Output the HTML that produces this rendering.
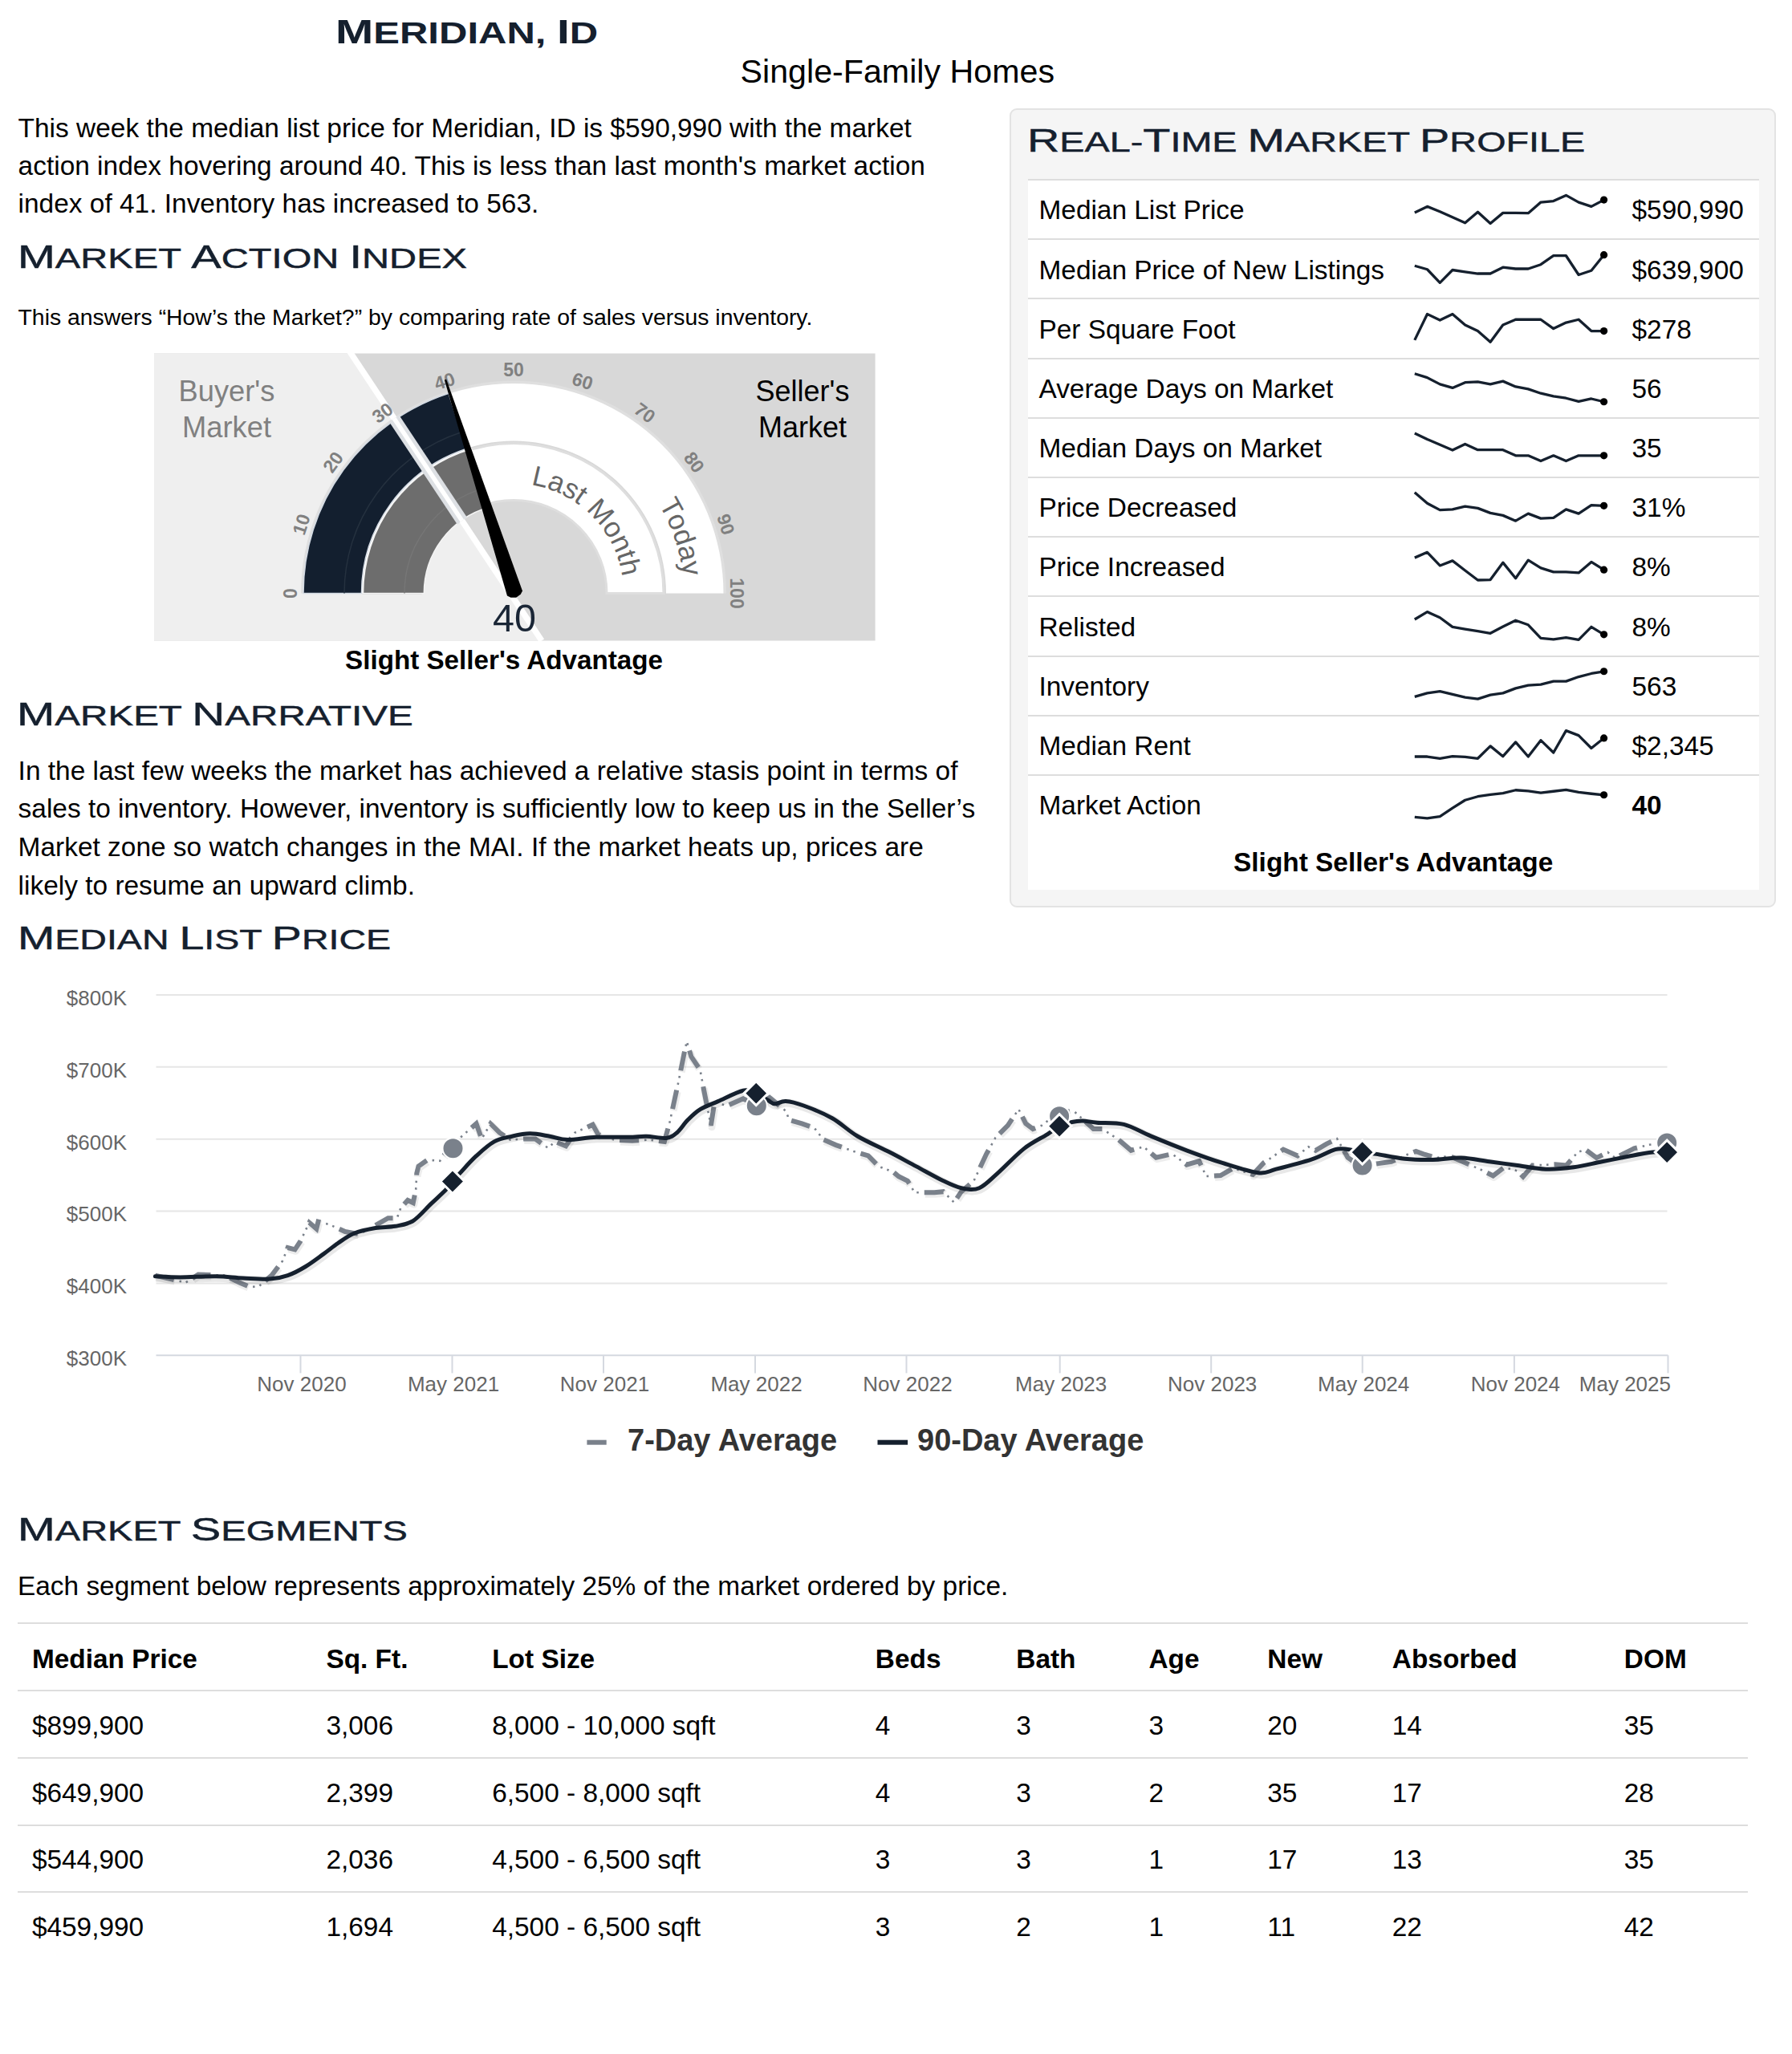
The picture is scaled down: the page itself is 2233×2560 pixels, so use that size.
<!DOCTYPE html><html><head><meta charset="utf-8"><style>
html,body{margin:0;padding:0;background:#fff;}
body{width:2233px;height:2560px;position:relative;overflow:hidden;font-family:"Liberation Sans",sans-serif;color:#000;}
.t{position:absolute;white-space:nowrap;}
.h{position:absolute;white-space:nowrap;color:#15202e;transform-origin:0 0;-webkit-text-stroke:0.45px #15202e;}
svg{position:absolute;left:0;top:0;}
</style></head><body>
<div class="h" id="title" style="left:418.0px;top:17.7px;line-height:43.3px;font-weight:bold;-webkit-text-stroke:0;transform:scaleX(1.3103)"><span style="font-size:43.3px">M</span><span style="font-size:37.4px">E</span><span style="font-size:37.4px">R</span><span style="font-size:37.4px">I</span><span style="font-size:37.4px">D</span><span style="font-size:37.4px">I</span><span style="font-size:37.4px">A</span><span style="font-size:37.4px">N</span><span style="font-size:37.4px">,</span><span style="font-size:37.4px"> </span><span style="font-size:43.3px">I</span><span style="font-size:37.4px">D</span></div>
<div class="t " style="left:118.3px;width:2000px;text-align:center;top:69.3px;font-size:41.2px;line-height:41.2px;">Single-Family Homes</div>
<div class="t " style="left:22.6px;top:142.5px;font-size:33.45px;line-height:33.45px;">This week the median list price for Meridian, ID is $590,990 with the market</div>
<div class="t " style="left:22.6px;top:189.8px;font-size:33.45px;line-height:33.45px;">action index hovering around 40. This is less than last month's market action</div>
<div class="t " style="left:22.6px;top:237.1px;font-size:33.45px;line-height:33.45px;">index of 41. Inventory has increased to 563.</div>
<div class="h" id="mai" style="left:21.7px;top:299.6px;line-height:41.2px;transform:scaleX(1.3655)"><span style="font-size:41.2px">M</span><span style="font-size:34.5px">A</span><span style="font-size:34.5px">R</span><span style="font-size:34.5px">K</span><span style="font-size:34.5px">E</span><span style="font-size:34.5px">T</span><span style="font-size:34.5px"> </span><span style="font-size:41.2px">A</span><span style="font-size:34.5px">C</span><span style="font-size:34.5px">T</span><span style="font-size:34.5px">I</span><span style="font-size:34.5px">O</span><span style="font-size:34.5px">N</span><span style="font-size:34.5px"> </span><span style="font-size:41.2px">I</span><span style="font-size:34.5px">N</span><span style="font-size:34.5px">D</span><span style="font-size:34.5px">E</span><span style="font-size:34.5px">X</span></div>
<div class="t " style="left:22.5px;top:380.9px;font-size:28.4px;line-height:28.4px;">This answers “How’s the Market?” by comparing rate of sales versus inventory.</div>
<svg width="2233" height="900" viewBox="0 0 2233 900" style="font-family:'Liberation Sans'"><rect x="192.0" y="440.5" width="898.5999999999999" height="358.0" fill="#d8d8d8"/><polygon points="192.0,440.5 434.0,440.5 675.0,798.5 192.0,798.5" fill="#efefef"/><path d="M375.00,739.50 A265,265 0 0 1 905.00,739.50 L899.00,739.50 A259,259 0 0 0 381.00,739.50 Z" fill="#dfdfdf"/><path d="M378.50,739.50 A261.5,261.5 0 0 1 901.50,739.50 L830.00,739.50 A190,190 0 0 0 450.00,739.50 Z" fill="#fff"/><path d="M453.00,739.50 A187,187 0 0 1 827.00,739.50 L756.00,739.50 A116,116 0 0 0 524.00,739.50 Z" fill="#fff" stroke="#dedede" stroke-width="3"/><path d="M449.00,739.50 A191,191 0 0 1 586.71,556.08 L588.11,560.89 A186,186 0 0 0 454.00,739.50 Z" fill="#fff"/><path d="M378.00,739.50 A262,262 0 0 1 559.04,490.32 L581.44,559.27 A189.5,189.5 0 0 0 450.50,739.50 Z" fill="#131f2f" stroke="#d3dae3" stroke-width="1.5"/><path d="M452.50,739.50 A187.5,187.5 0 0 1 587.69,559.44 L608.84,632.24 A111.7,111.7 0 0 0 528.30,739.50 Z" fill="#6d6d6d" stroke="#f4f4f4" stroke-width="1.5"/><path d="M429.00,739.5 A211,211 0 0 1 574.80,538.83" fill="none" stroke="#25313f" stroke-width="1.5"/><path d="M504.00,739.5 A136,136 0 0 1 602.06,608.90" fill="none" stroke="#767676" stroke-width="1.5"/><clipPath id="ringclip"><path d="M376.00,739.50 A264,264 0 0 1 904.00,739.50 L751.00,739.50 A111,111 0 0 0 529.00,739.50 Z"/></clipPath><clipPath id="outclip"><path clip-rule="evenodd" d="M0,0 H2233 V900 H0 Z M376.00,739.50 A264,264 0 0 1 904.00,739.50 L751.00,739.50 A111,111 0 0 0 529.00,739.50 Z"/></clipPath><line x1="434.0" y1="435.5" x2="675.0" y2="798.5" stroke="#dde0e4" stroke-width="15" clip-path="url(#ringclip)"/><line x1="434.0" y1="435.5" x2="675.0" y2="798.5" stroke="#fff" stroke-width="5.5" clip-path="url(#ringclip)"/><line x1="434.0" y1="435.5" x2="675.0" y2="798.5" stroke="#fff" stroke-width="7.5" clip-path="url(#outclip)"/><g transform="translate(640.0,739.5) rotate(-90.0) translate(0,-278)"><text x="0" y="7.9" text-anchor="middle" font-size="23" font-weight="bold" fill="#808080">0</text></g><g transform="translate(640.0,739.5) rotate(-72.0) translate(0,-278)"><text x="0" y="7.9" text-anchor="middle" font-size="23" font-weight="bold" fill="#808080">10</text></g><g transform="translate(640.0,739.5) rotate(-54.0) translate(0,-278)"><text x="0" y="7.9" text-anchor="middle" font-size="23" font-weight="bold" fill="#808080">20</text></g><g transform="translate(640.0,739.5) rotate(-36.0) translate(0,-278)"><text x="0" y="7.9" text-anchor="middle" font-size="23" font-weight="bold" fill="#808080">30</text></g><g transform="translate(640.0,739.5) rotate(-18.0) translate(0,-278)"><text x="0" y="7.9" text-anchor="middle" font-size="23" font-weight="bold" fill="#808080">40</text></g><g transform="translate(640.0,739.5) rotate(0.0) translate(0,-278)"><text x="0" y="7.9" text-anchor="middle" font-size="23" font-weight="bold" fill="#808080">50</text></g><g transform="translate(640.0,739.5) rotate(18.0) translate(0,-278)"><text x="0" y="7.9" text-anchor="middle" font-size="23" font-weight="bold" fill="#808080">60</text></g><g transform="translate(640.0,739.5) rotate(36.0) translate(0,-278)"><text x="0" y="7.9" text-anchor="middle" font-size="23" font-weight="bold" fill="#808080">70</text></g><g transform="translate(640.0,739.5) rotate(54.0) translate(0,-278)"><text x="0" y="7.9" text-anchor="middle" font-size="23" font-weight="bold" fill="#808080">80</text></g><g transform="translate(640.0,739.5) rotate(72.0) translate(0,-278)"><text x="0" y="7.9" text-anchor="middle" font-size="23" font-weight="bold" fill="#808080">90</text></g><g transform="translate(640.0,739.5) rotate(90.0) translate(0,-278)"><text x="0" y="7.9" text-anchor="middle" font-size="23" font-weight="bold" fill="#808080">100</text></g><text transform="translate(670.98,606.05) rotate(13.07)" text-anchor="middle" font-size="35" fill="#666">L</text><text transform="translate(689.56,611.78) rotate(21.21)" text-anchor="middle" font-size="35" fill="#666">a</text><text transform="translate(706.29,619.61) rotate(28.94)" text-anchor="middle" font-size="35" fill="#666">s</text><text transform="translate(717.86,626.77) rotate(34.63)" text-anchor="middle" font-size="35" fill="#666">t</text><text transform="translate(739.92,645.77) rotate(46.83)" text-anchor="middle" font-size="35" fill="#666">M</text><text transform="translate(754.89,664.88) rotate(57.00)" text-anchor="middle" font-size="35" fill="#666">o</text><text transform="translate(764.30,681.90) rotate(65.14)" text-anchor="middle" font-size="35" fill="#666">n</text><text transform="translate(769.72,695.45) rotate(71.24)" text-anchor="middle" font-size="35" fill="#666">t</text><text transform="translate(773.67,709.49) rotate(77.35)" text-anchor="middle" font-size="35" fill="#666">h</text><text transform="translate(826.07,637.90) rotate(61.36)" text-anchor="middle" font-size="35" fill="#666">T</text><text transform="translate(834.21,654.49) rotate(66.36)" text-anchor="middle" font-size="35" fill="#666">o</text><text transform="translate(841.19,672.65) rotate(71.62)" text-anchor="middle" font-size="35" fill="#666">d</text><text transform="translate(846.47,691.38) rotate(76.88)" text-anchor="middle" font-size="35" fill="#666">a</text><text transform="translate(849.87,709.55) rotate(81.88)" text-anchor="middle" font-size="35" fill="#666">y</text><polygon points="553.83,473.57 556.12,472.83 651.01,736.41 648.76,740.82 643.20,744.73 636.40,744.84 631.99,742.59" fill="#000"/><text x="641" y="787.3" text-anchor="middle" font-size="48.5" fill="#1a2636">40</text><text x="282.5" y="500" text-anchor="middle" font-size="36.3" fill="#808080">Buyer's</text><text x="282.5" y="544.7" text-anchor="middle" font-size="36.3" fill="#808080">Market</text><text x="1000" y="499.8" text-anchor="middle" font-size="36" fill="#000">Seller's</text><text x="1000" y="544.8" text-anchor="middle" font-size="36" fill="#000">Market</text></svg>
<div class="t " style="left:-372.0px;width:2000px;text-align:center;top:806.4px;font-size:33.2px;line-height:33.2px;font-weight:bold">Slight Seller's Advantage</div>
<div class="h" id="narr" style="left:20.5px;top:869.5px;line-height:41.2px;transform:scaleX(1.3788)"><span style="font-size:41.2px">M</span><span style="font-size:34.5px">A</span><span style="font-size:34.5px">R</span><span style="font-size:34.5px">K</span><span style="font-size:34.5px">E</span><span style="font-size:34.5px">T</span><span style="font-size:34.5px"> </span><span style="font-size:41.2px">N</span><span style="font-size:34.5px">A</span><span style="font-size:34.5px">R</span><span style="font-size:34.5px">R</span><span style="font-size:34.5px">A</span><span style="font-size:34.5px">T</span><span style="font-size:34.5px">I</span><span style="font-size:34.5px">V</span><span style="font-size:34.5px">E</span></div>
<div class="t " style="left:22.6px;top:943.7px;font-size:33.45px;line-height:33.45px;">In the last few weeks the market has achieved a relative stasis point in terms of</div>
<div class="t " style="left:22.6px;top:991.3px;font-size:33.45px;line-height:33.45px;">sales to inventory. However, inventory is sufficiently low to keep us in the Seller’s</div>
<div class="t " style="left:22.6px;top:1038.9px;font-size:33.45px;line-height:33.45px;">Market zone so watch changes in the MAI. If the market heats up, prices are</div>
<div class="t " style="left:22.6px;top:1086.5px;font-size:33.45px;line-height:33.45px;">likely to resume an upward climb.</div>
<div style="position:absolute;left:1258.3px;top:135.2px;width:950.4px;height:992.1px;background:#f5f5f5;border:2px solid #e3e3e3;border-radius:9px"></div>
<div style="position:absolute;left:1280.5px;top:223.1px;width:911.4px;height:886.3px;background:#fff"></div>
<div class="h" id="rtmp" style="left:1279.7px;top:154.7px;line-height:41.2px;transform:scaleX(1.3552)"><span style="font-size:41.2px">R</span><span style="font-size:34.5px">E</span><span style="font-size:34.5px">A</span><span style="font-size:34.5px">L</span><span style="font-size:34.5px">-</span><span style="font-size:41.2px">T</span><span style="font-size:34.5px">I</span><span style="font-size:34.5px">M</span><span style="font-size:34.5px">E</span><span style="font-size:34.5px"> </span><span style="font-size:41.2px">M</span><span style="font-size:34.5px">A</span><span style="font-size:34.5px">R</span><span style="font-size:34.5px">K</span><span style="font-size:34.5px">E</span><span style="font-size:34.5px">T</span><span style="font-size:34.5px"> </span><span style="font-size:41.2px">P</span><span style="font-size:34.5px">R</span><span style="font-size:34.5px">O</span><span style="font-size:34.5px">F</span><span style="font-size:34.5px">I</span><span style="font-size:34.5px">L</span><span style="font-size:34.5px">E</span></div>
<div style="position:absolute;left:1280.5px;top:223.10px;width:911.4px;height:2px;background:#dddddd"></div>
<div class="t " style="left:1294.5px;top:245.3px;font-size:33.4px;line-height:33.4px;">Median List Price</div>
<div class="t " style="left:2033.5px;top:245.3px;font-size:33.4px;line-height:33.4px;">$590,990</div>
<div style="position:absolute;left:1280.5px;top:297.28px;width:911.4px;height:2px;background:#dddddd"></div>
<div class="t " style="left:1294.5px;top:319.5px;font-size:33.4px;line-height:33.4px;">Median Price of New Listings</div>
<div class="t " style="left:2033.5px;top:319.5px;font-size:33.4px;line-height:33.4px;">$639,900</div>
<div style="position:absolute;left:1280.5px;top:371.46px;width:911.4px;height:2px;background:#dddddd"></div>
<div class="t " style="left:1294.5px;top:393.7px;font-size:33.4px;line-height:33.4px;">Per Square Foot</div>
<div class="t " style="left:2033.5px;top:393.7px;font-size:33.4px;line-height:33.4px;">$278</div>
<div style="position:absolute;left:1280.5px;top:445.64px;width:911.4px;height:2px;background:#dddddd"></div>
<div class="t " style="left:1294.5px;top:467.9px;font-size:33.4px;line-height:33.4px;">Average Days on Market</div>
<div class="t " style="left:2033.5px;top:467.9px;font-size:33.4px;line-height:33.4px;">56</div>
<div style="position:absolute;left:1280.5px;top:519.82px;width:911.4px;height:2px;background:#dddddd"></div>
<div class="t " style="left:1294.5px;top:542.0px;font-size:33.4px;line-height:33.4px;">Median Days on Market</div>
<div class="t " style="left:2033.5px;top:542.0px;font-size:33.4px;line-height:33.4px;">35</div>
<div style="position:absolute;left:1280.5px;top:594.00px;width:911.4px;height:2px;background:#dddddd"></div>
<div class="t " style="left:1294.5px;top:616.2px;font-size:33.4px;line-height:33.4px;">Price Decreased</div>
<div class="t " style="left:2033.5px;top:616.2px;font-size:33.4px;line-height:33.4px;">31%</div>
<div style="position:absolute;left:1280.5px;top:668.18px;width:911.4px;height:2px;background:#dddddd"></div>
<div class="t " style="left:1294.5px;top:690.4px;font-size:33.4px;line-height:33.4px;">Price Increased</div>
<div class="t " style="left:2033.5px;top:690.4px;font-size:33.4px;line-height:33.4px;">8%</div>
<div style="position:absolute;left:1280.5px;top:742.36px;width:911.4px;height:2px;background:#dddddd"></div>
<div class="t " style="left:1294.5px;top:764.6px;font-size:33.4px;line-height:33.4px;">Relisted</div>
<div class="t " style="left:2033.5px;top:764.6px;font-size:33.4px;line-height:33.4px;">8%</div>
<div style="position:absolute;left:1280.5px;top:816.54px;width:911.4px;height:2px;background:#dddddd"></div>
<div class="t " style="left:1294.5px;top:838.8px;font-size:33.4px;line-height:33.4px;">Inventory</div>
<div class="t " style="left:2033.5px;top:838.8px;font-size:33.4px;line-height:33.4px;">563</div>
<div style="position:absolute;left:1280.5px;top:890.72px;width:911.4px;height:2px;background:#dddddd"></div>
<div class="t " style="left:1294.5px;top:912.9px;font-size:33.4px;line-height:33.4px;">Median Rent</div>
<div class="t " style="left:2033.5px;top:912.9px;font-size:33.4px;line-height:33.4px;">$2,345</div>
<div style="position:absolute;left:1280.5px;top:964.90px;width:911.4px;height:2px;background:#dddddd"></div>
<div class="t " style="left:1294.5px;top:987.1px;font-size:33.4px;line-height:33.4px;">Market Action</div>
<div class="t " style="left:2033.5px;top:987.1px;font-size:33.4px;line-height:33.4px;"><b>40</b></div>
<svg width="2233" height="1200" viewBox="0 0 2233 1200"><path d="M1762.81,264.93 L1778.48,257.39 L1794.30,263.72 L1809.97,270.65 L1825.64,277.73 L1841.46,264.17 L1857.13,278.49 L1872.80,265.38 L1888.62,265.38 L1904.29,265.68 L1919.96,252.12 L1935.78,250.61 L1951.45,243.38 L1967.12,252.12 L1982.94,257.39 L1998.61,249.11" fill="none" stroke="#15202e" stroke-width="3.3" stroke-linejoin="round"/><circle cx="1998.61" cy="249.11" r="4.6" fill="#000"/><path d="M1762.81,331.22 L1778.48,335.74 L1794.30,352.32 L1809.97,336.50 L1825.64,338.76 L1841.46,341.02 L1857.13,341.02 L1872.80,333.18 L1888.62,334.99 L1904.29,334.99 L1919.96,329.72 L1935.78,318.72 L1951.45,318.72 L1967.12,342.52 L1982.94,337.25 L1998.61,317.66" fill="none" stroke="#15202e" stroke-width="3.3" stroke-linejoin="round"/><circle cx="1998.61" cy="317.66" r="4.6" fill="#000"/><path d="M1762.81,423.89 L1778.48,391.49 L1794.30,399.02 L1809.97,391.49 L1825.64,405.05 L1841.46,412.58 L1857.13,426.15 L1872.80,405.05 L1888.62,398.27 L1904.29,398.27 L1919.96,398.27 L1935.78,409.57 L1951.45,402.04 L1967.12,398.27 L1982.94,412.58 L1998.61,412.58" fill="none" stroke="#15202e" stroke-width="3.3" stroke-linejoin="round"/><circle cx="1998.61" cy="412.58" r="4.6" fill="#000"/><path d="M1762.81,465.79 L1778.48,470.61 L1794.30,478.90 L1809.97,483.42 L1825.64,476.64 L1841.46,475.89 L1857.13,478.90 L1872.80,475.13 L1888.62,481.91 L1904.29,484.93 L1919.96,490.20 L1935.78,493.97 L1951.45,496.23 L1967.12,500.45 L1982.94,496.98 L1998.61,500.75" fill="none" stroke="#15202e" stroke-width="3.3" stroke-linejoin="round"/><circle cx="1998.61" cy="500.75" r="4.6" fill="#000"/><path d="M1762.81,539.92 L1778.48,547.46 L1794.30,554.24 L1809.97,561.02 L1825.64,553.48 L1841.46,560.71 L1857.13,560.71 L1872.80,560.71 L1888.62,567.80 L1904.29,567.80 L1919.96,574.58 L1935.78,567.80 L1951.45,574.58 L1967.12,567.80 L1982.94,567.80 L1998.61,567.80" fill="none" stroke="#15202e" stroke-width="3.3" stroke-linejoin="round"/><circle cx="1998.61" cy="567.80" r="4.6" fill="#000"/><path d="M1762.81,613.75 L1778.48,627.31 L1794.30,635.60 L1809.97,634.84 L1825.64,631.08 L1841.46,633.34 L1857.13,639.36 L1872.80,642.38 L1888.62,649.16 L1904.29,640.12 L1919.96,646.15 L1935.78,645.39 L1951.45,634.84 L1967.12,640.12 L1982.94,629.57 L1998.61,630.32" fill="none" stroke="#15202e" stroke-width="3.3" stroke-linejoin="round"/><circle cx="1998.61" cy="630.32" r="4.6" fill="#000"/><path d="M1762.81,695.13 L1778.48,688.35 L1794.30,704.93 L1809.97,698.90 L1825.64,710.95 L1841.46,723.01 L1857.13,722.56 L1872.80,701.16 L1888.62,720.75 L1904.29,698.15 L1919.96,707.94 L1935.78,712.91 L1951.45,712.91 L1967.12,713.97 L1982.94,700.41 L1998.61,710.20" fill="none" stroke="#15202e" stroke-width="3.3" stroke-linejoin="round"/><circle cx="1998.61" cy="710.20" r="4.6" fill="#000"/><path d="M1762.81,771.98 L1778.48,762.63 L1794.30,769.72 L1809.97,781.32 L1825.64,784.03 L1841.46,786.74 L1857.13,789.30 L1872.80,781.02 L1888.62,773.18 L1904.29,778.76 L1919.96,795.33 L1935.78,796.84 L1951.45,794.58 L1967.12,797.29 L1982.94,781.32 L1998.61,790.81" fill="none" stroke="#15202e" stroke-width="3.3" stroke-linejoin="round"/><circle cx="1998.61" cy="790.81" r="4.6" fill="#000"/><path d="M1762.81,868.41 L1778.48,863.89 L1794.30,861.62 L1809.97,865.39 L1825.64,869.16 L1841.46,871.12 L1857.13,866.15 L1872.80,863.89 L1888.62,857.86 L1904.29,854.09 L1919.96,853.04 L1935.78,849.12 L1951.45,849.12 L1967.12,843.54 L1982.94,839.48 L1998.61,836.76" fill="none" stroke="#15202e" stroke-width="3.3" stroke-linejoin="round"/><circle cx="1998.61" cy="836.76" r="4.6" fill="#000"/><path d="M1762.81,943.01 L1778.48,943.01 L1794.30,945.27 L1809.97,942.71 L1825.64,943.46 L1841.46,945.27 L1857.13,929.90 L1872.80,942.71 L1888.62,924.93 L1904.29,943.01 L1919.96,922.67 L1935.78,938.04 L1951.45,910.61 L1967.12,916.64 L1982.94,932.46 L1998.61,919.96" fill="none" stroke="#15202e" stroke-width="3.3" stroke-linejoin="round"/><circle cx="1998.61" cy="919.96" r="4.6" fill="#000"/><path d="M1762.81,1018.34 L1778.48,1019.85 L1794.30,1017.59 L1809.97,1007.04 L1825.64,997.25 L1841.46,992.73 L1857.13,990.47 L1872.80,988.66 L1888.62,984.74 L1904.29,985.95 L1919.96,988.21 L1935.78,986.25 L1951.45,984.44 L1967.12,987.46 L1982.94,989.26 L1998.61,990.77" fill="none" stroke="#15202e" stroke-width="3.3" stroke-linejoin="round"/><circle cx="1998.61" cy="990.77" r="4.6" fill="#000"/></svg>
<div class="t " style="left:736.2px;width:2000px;text-align:center;top:1057.5px;font-size:33.4px;line-height:33.4px;font-weight:bold">Slight Seller's Advantage</div>
<div class="h" id="mlp" style="left:22.4px;top:1149.0px;line-height:41.2px;transform:scaleX(1.3485)"><span style="font-size:41.2px">M</span><span style="font-size:34.5px">E</span><span style="font-size:34.5px">D</span><span style="font-size:34.5px">I</span><span style="font-size:34.5px">A</span><span style="font-size:34.5px">N</span><span style="font-size:34.5px"> </span><span style="font-size:41.2px">L</span><span style="font-size:34.5px">I</span><span style="font-size:34.5px">S</span><span style="font-size:34.5px">T</span><span style="font-size:34.5px"> </span><span style="font-size:41.2px">P</span><span style="font-size:34.5px">R</span><span style="font-size:34.5px">I</span><span style="font-size:34.5px">C</span><span style="font-size:34.5px">E</span></div>
<svg width="2233" height="1900" viewBox="0 0 2233 1900" style="font-family:'Liberation Sans'"><text x="158" y="1702.0" text-anchor="end" font-size="26" fill="#666">$300K</text><line x1="194.5" y1="1599.4" x2="2077.5" y2="1599.4" stroke="#e6e6e6" stroke-width="2"/><text x="158" y="1612.2" text-anchor="end" font-size="26" fill="#666">$400K</text><line x1="194.5" y1="1509.5" x2="2077.5" y2="1509.5" stroke="#e6e6e6" stroke-width="2"/><text x="158" y="1522.3" text-anchor="end" font-size="26" fill="#666">$500K</text><line x1="194.5" y1="1419.7" x2="2077.5" y2="1419.7" stroke="#e6e6e6" stroke-width="2"/><text x="158" y="1432.5" text-anchor="end" font-size="26" fill="#666">$600K</text><line x1="194.5" y1="1329.8" x2="2077.5" y2="1329.8" stroke="#e6e6e6" stroke-width="2"/><text x="158" y="1342.6" text-anchor="end" font-size="26" fill="#666">$700K</text><line x1="194.5" y1="1240.0" x2="2077.5" y2="1240.0" stroke="#e6e6e6" stroke-width="2"/><text x="158" y="1252.8" text-anchor="end" font-size="26" fill="#666">$800K</text><line x1="194.5" y1="1689.2" x2="2078.5" y2="1689.2" stroke="#d5d9e0" stroke-width="2"/><line x1="374.5" y1="1689.2" x2="374.5" y2="1711.4" stroke="#d5d9e0" stroke-width="2"/><text x="376.0" y="1734.4" text-anchor="middle" font-size="26" fill="#666">Nov 2020</text><line x1="563.5" y1="1689.2" x2="563.5" y2="1711.4" stroke="#d5d9e0" stroke-width="2"/><text x="565.0" y="1734.4" text-anchor="middle" font-size="26" fill="#666">May 2021</text><line x1="752" y1="1689.2" x2="752" y2="1711.4" stroke="#d5d9e0" stroke-width="2"/><text x="753.5" y="1734.4" text-anchor="middle" font-size="26" fill="#666">Nov 2021</text><line x1="941" y1="1689.2" x2="941" y2="1711.4" stroke="#d5d9e0" stroke-width="2"/><text x="942.5" y="1734.4" text-anchor="middle" font-size="26" fill="#666">May 2022</text><line x1="1129.5" y1="1689.2" x2="1129.5" y2="1711.4" stroke="#d5d9e0" stroke-width="2"/><text x="1131.0" y="1734.4" text-anchor="middle" font-size="26" fill="#666">Nov 2022</text><line x1="1320.7" y1="1689.2" x2="1320.7" y2="1711.4" stroke="#d5d9e0" stroke-width="2"/><text x="1322.2" y="1734.4" text-anchor="middle" font-size="26" fill="#666">May 2023</text><line x1="1509.2" y1="1689.2" x2="1509.2" y2="1711.4" stroke="#d5d9e0" stroke-width="2"/><text x="1510.7" y="1734.4" text-anchor="middle" font-size="26" fill="#666">Nov 2023</text><line x1="1697.7" y1="1689.2" x2="1697.7" y2="1711.4" stroke="#d5d9e0" stroke-width="2"/><text x="1699.2" y="1734.4" text-anchor="middle" font-size="26" fill="#666">May 2024</text><line x1="1886.9" y1="1689.2" x2="1886.9" y2="1711.4" stroke="#d5d9e0" stroke-width="2"/><text x="1888.4" y="1734.4" text-anchor="middle" font-size="26" fill="#666">Nov 2024</text><line x1="2078.5" y1="1689.2" x2="2078.5" y2="1711.4" stroke="#d5d9e0" stroke-width="2"/><text x="2082" y="1734.4" text-anchor="end" font-size="26" fill="#666">May 2025</text><path d="M193.4,1589.6 L231.3,1598.6 L247.0,1588.5 L280.4,1589.6 L298.3,1598.6 L311.7,1604.2 L322.9,1603.0 L338.5,1589.6 L351.9,1571.8 L358.6,1555.0 L367.5,1557.3 L374.2,1547.2 L385.4,1523.8 L394.3,1531.6 L396.5,1522.7 L409.9,1526.0 L430.0,1535.0 L447.9,1538.3 L467.9,1527.1 L483.6,1518.2 L494.7,1518.2 L499.2,1505.9 L508.1,1495.9 L514.8,1499.2 L518.2,1482.5 L519.3,1462.4 L521.5,1453.5 L532.7,1445.7 L548.3,1446.8 L559.5,1431.2 L577.9,1413.9 L593.5,1400.5 L600.2,1419.5 L611.3,1400.5 L622.5,1411.7 L635.9,1420.6 L653.8,1419.5 L667.1,1419.5 L682.8,1430.7 L691.7,1422.9 L705.1,1428.4 L716.3,1411.7 L738.6,1401.7 L745.3,1413.9 L765.4,1420.6 L787.7,1421.7 L807.8,1420.6 L827.9,1422.9 L834.6,1398.3 L845.7,1347.0 L852.4,1313.5 L855.8,1297.9 L861.3,1316.8 L872.5,1333.6 L877.0,1358.1 L885.9,1402.8 L890.4,1373.8 L906.0,1378.2 L926.1,1369.3 L943.9,1378.2 L959.0,1368.0 L979.1,1384.7 L983.6,1395.9 L999.2,1400.4 L1014.8,1405.9 L1026.0,1420.4 L1041.6,1427.1 L1063.9,1435.0 L1081.8,1440.5 L1095.2,1453.9 L1113.0,1460.6 L1119.7,1466.2 L1130.9,1471.8 L1139.8,1486.3 L1164.4,1486.3 L1175.5,1485.2 L1188.9,1498.6 L1197.9,1485.2 L1213.5,1471.8 L1229.1,1438.3 L1240.3,1418.2 L1255.9,1402.6 L1269.3,1382.5 L1278.2,1400.4 L1287.1,1407.1 L1298.3,1402.6 L1318.4,1387.0 L1337.9,1384.6 L1362.5,1407.0 L1373.7,1407.0 L1393.8,1420.4 L1409.4,1433.8 L1425.0,1429.3 L1440.6,1442.7 L1460.7,1438.2 L1478.6,1451.6 L1494.2,1447.1 L1503.1,1466.1 L1521.0,1465.0 L1536.6,1456.1 L1561.2,1463.9 L1574.6,1449.4 L1599.1,1432.6 L1616.9,1440.4 L1630.4,1429.3 L1639.3,1433.8 L1652.7,1425.9 L1666.1,1419.2 L1679.5,1442.7 L1695.1,1453.8 L1717.5,1450.1 L1733.9,1447.8 L1755.0,1438.4 L1764.4,1434.9 L1773.7,1438.4 L1790.1,1443.1 L1806.6,1440.8 L1825.3,1449.0 L1844.0,1457.2 L1860.5,1465.4 L1874.5,1454.8 L1890.9,1459.5 L1897.9,1466.6 L1909.7,1452.5 L1937.8,1451.3 L1951.9,1452.5 L1965.9,1436.1 L1975.3,1432.6 L1989.4,1443.1 L2003.4,1436.1 L2012.8,1443.1 L2022.2,1438.4 L2036.2,1431.4 L2055.0,1426.7 L2077.2,1424.4" fill="none" stroke="rgba(0,0,0,0.07)" stroke-width="9" transform="translate(1,2)" stroke-dasharray="24,25" stroke-linejoin="round"/><path d="M193.4,1589.6 L231.3,1598.6 L247.0,1588.5 L280.4,1589.6 L298.3,1598.6 L311.7,1604.2 L322.9,1603.0 L338.5,1589.6 L351.9,1571.8 L358.6,1555.0 L367.5,1557.3 L374.2,1547.2 L385.4,1523.8 L394.3,1531.6 L396.5,1522.7 L409.9,1526.0 L430.0,1535.0 L447.9,1538.3 L467.9,1527.1 L483.6,1518.2 L494.7,1518.2 L499.2,1505.9 L508.1,1495.9 L514.8,1499.2 L518.2,1482.5 L519.3,1462.4 L521.5,1453.5 L532.7,1445.7 L548.3,1446.8 L559.5,1431.2 L577.9,1413.9 L593.5,1400.5 L600.2,1419.5 L611.3,1400.5 L622.5,1411.7 L635.9,1420.6 L653.8,1419.5 L667.1,1419.5 L682.8,1430.7 L691.7,1422.9 L705.1,1428.4 L716.3,1411.7 L738.6,1401.7 L745.3,1413.9 L765.4,1420.6 L787.7,1421.7 L807.8,1420.6 L827.9,1422.9 L834.6,1398.3 L845.7,1347.0 L852.4,1313.5 L855.8,1297.9 L861.3,1316.8 L872.5,1333.6 L877.0,1358.1 L885.9,1402.8 L890.4,1373.8 L906.0,1378.2 L926.1,1369.3 L943.9,1378.2 L959.0,1368.0 L979.1,1384.7 L983.6,1395.9 L999.2,1400.4 L1014.8,1405.9 L1026.0,1420.4 L1041.6,1427.1 L1063.9,1435.0 L1081.8,1440.5 L1095.2,1453.9 L1113.0,1460.6 L1119.7,1466.2 L1130.9,1471.8 L1139.8,1486.3 L1164.4,1486.3 L1175.5,1485.2 L1188.9,1498.6 L1197.9,1485.2 L1213.5,1471.8 L1229.1,1438.3 L1240.3,1418.2 L1255.9,1402.6 L1269.3,1382.5 L1278.2,1400.4 L1287.1,1407.1 L1298.3,1402.6 L1318.4,1387.0 L1337.9,1384.6 L1362.5,1407.0 L1373.7,1407.0 L1393.8,1420.4 L1409.4,1433.8 L1425.0,1429.3 L1440.6,1442.7 L1460.7,1438.2 L1478.6,1451.6 L1494.2,1447.1 L1503.1,1466.1 L1521.0,1465.0 L1536.6,1456.1 L1561.2,1463.9 L1574.6,1449.4 L1599.1,1432.6 L1616.9,1440.4 L1630.4,1429.3 L1639.3,1433.8 L1652.7,1425.9 L1666.1,1419.2 L1679.5,1442.7 L1695.1,1453.8 L1717.5,1450.1 L1733.9,1447.8 L1755.0,1438.4 L1764.4,1434.9 L1773.7,1438.4 L1790.1,1443.1 L1806.6,1440.8 L1825.3,1449.0 L1844.0,1457.2 L1860.5,1465.4 L1874.5,1454.8 L1890.9,1459.5 L1897.9,1466.6 L1909.7,1452.5 L1937.8,1451.3 L1951.9,1452.5 L1965.9,1436.1 L1975.3,1432.6 L1989.4,1443.1 L2003.4,1436.1 L2012.8,1443.1 L2022.2,1438.4 L2036.2,1431.4 L2055.0,1426.7 L2077.2,1424.4" fill="none" stroke="#7a818b" stroke-width="6" stroke-dasharray="24,25" stroke-linejoin="miter"/><path d="M193.4,1589.6 L231.3,1598.6 L247.0,1588.5 L280.4,1589.6 L298.3,1598.6 L311.7,1604.2 L322.9,1603.0 L338.5,1589.6 L351.9,1571.8 L358.6,1555.0 L367.5,1557.3 L374.2,1547.2 L385.4,1523.8 L394.3,1531.6 L396.5,1522.7 L409.9,1526.0 L430.0,1535.0 L447.9,1538.3 L467.9,1527.1 L483.6,1518.2 L494.7,1518.2 L499.2,1505.9 L508.1,1495.9 L514.8,1499.2 L518.2,1482.5 L519.3,1462.4 L521.5,1453.5 L532.7,1445.7 L548.3,1446.8 L559.5,1431.2 L577.9,1413.9 L593.5,1400.5 L600.2,1419.5 L611.3,1400.5 L622.5,1411.7 L635.9,1420.6 L653.8,1419.5 L667.1,1419.5 L682.8,1430.7 L691.7,1422.9 L705.1,1428.4 L716.3,1411.7 L738.6,1401.7 L745.3,1413.9 L765.4,1420.6 L787.7,1421.7 L807.8,1420.6 L827.9,1422.9 L834.6,1398.3 L845.7,1347.0 L852.4,1313.5 L855.8,1297.9 L861.3,1316.8 L872.5,1333.6 L877.0,1358.1 L885.9,1402.8 L890.4,1373.8 L906.0,1378.2 L926.1,1369.3 L943.9,1378.2 L959.0,1368.0 L979.1,1384.7 L983.6,1395.9 L999.2,1400.4 L1014.8,1405.9 L1026.0,1420.4 L1041.6,1427.1 L1063.9,1435.0 L1081.8,1440.5 L1095.2,1453.9 L1113.0,1460.6 L1119.7,1466.2 L1130.9,1471.8 L1139.8,1486.3 L1164.4,1486.3 L1175.5,1485.2 L1188.9,1498.6 L1197.9,1485.2 L1213.5,1471.8 L1229.1,1438.3 L1240.3,1418.2 L1255.9,1402.6 L1269.3,1382.5 L1278.2,1400.4 L1287.1,1407.1 L1298.3,1402.6 L1318.4,1387.0 L1337.9,1384.6 L1362.5,1407.0 L1373.7,1407.0 L1393.8,1420.4 L1409.4,1433.8 L1425.0,1429.3 L1440.6,1442.7 L1460.7,1438.2 L1478.6,1451.6 L1494.2,1447.1 L1503.1,1466.1 L1521.0,1465.0 L1536.6,1456.1 L1561.2,1463.9 L1574.6,1449.4 L1599.1,1432.6 L1616.9,1440.4 L1630.4,1429.3 L1639.3,1433.8 L1652.7,1425.9 L1666.1,1419.2 L1679.5,1442.7 L1695.1,1453.8 L1717.5,1450.1 L1733.9,1447.8 L1755.0,1438.4 L1764.4,1434.9 L1773.7,1438.4 L1790.1,1443.1 L1806.6,1440.8 L1825.3,1449.0 L1844.0,1457.2 L1860.5,1465.4 L1874.5,1454.8 L1890.9,1459.5 L1897.9,1466.6 L1909.7,1452.5 L1937.8,1451.3 L1951.9,1452.5 L1965.9,1436.1 L1975.3,1432.6 L1989.4,1443.1 L2003.4,1436.1 L2012.8,1443.1 L2022.2,1438.4 L2036.2,1431.4 L2055.0,1426.7 L2077.2,1424.4" fill="none" stroke="#7a818b" stroke-width="2.6" stroke-dasharray="0,31,2.5,6,2.5,7" /><path d="M193.4,1590.8 C198.6,1591.0 211.9,1591.9 224.6,1591.9 C237.2,1591.9 256.3,1590.6 269.3,1590.8 C282.3,1591.0 291.6,1592.5 302.8,1593.0 C314.0,1593.5 327.0,1594.7 336.3,1594.1 C345.6,1593.5 351.2,1592.2 358.6,1589.6 C366.0,1587.0 373.5,1583.0 380.9,1578.5 C388.3,1574.0 396.5,1567.7 403.2,1562.9 C409.9,1558.1 414.8,1553.8 421.1,1549.5 C427.4,1545.2 433.4,1540.4 441.2,1537.2 C449.0,1534.0 459.3,1532.0 467.9,1530.5 C476.4,1529.0 484.7,1529.8 492.5,1528.3 C500.3,1526.8 507.4,1526.2 514.8,1521.6 C522.2,1516.9 530.4,1506.7 537.1,1500.4 C543.8,1494.1 550.5,1488.2 555.0,1483.6 C559.5,1478.9 560.8,1476.1 563.9,1472.5 C567.0,1468.9 568.5,1467.2 573.4,1461.9 C578.3,1456.6 586.4,1447.2 593.5,1440.7 C600.6,1434.2 608.4,1427.0 615.8,1422.9 C623.2,1418.8 630.7,1417.9 638.1,1416.2 C645.5,1414.5 652.6,1412.8 660.4,1412.8 C668.2,1412.8 677.2,1414.9 685.0,1416.2 C692.8,1417.5 697.6,1420.4 707.3,1420.6 C717.0,1420.8 730.4,1417.8 743.0,1417.3 C755.6,1416.8 772.8,1417.5 783.2,1417.3 C793.6,1417.1 797.7,1416.0 805.5,1416.2 C813.3,1416.4 823.8,1419.2 830.1,1418.4 C836.4,1417.7 839.0,1415.4 843.5,1411.7 C848.0,1408.0 852.1,1400.9 856.9,1396.1 C861.7,1391.3 866.2,1386.6 872.5,1382.7 C878.8,1378.8 885.9,1376.5 894.8,1372.6 C903.7,1368.7 918.3,1360.9 926.1,1359.2 C933.9,1357.5 936.6,1360.6 941.7,1362.6 C946.8,1364.6 952.8,1369.1 956.8,1371.3 C960.8,1373.5 962.0,1375.6 965.7,1375.8 C969.4,1376.0 973.2,1372.1 979.1,1372.5 C985.0,1372.9 991.7,1374.5 1001.4,1378.0 C1011.1,1381.5 1025.9,1387.4 1037.1,1393.7 C1048.3,1400.0 1056.5,1408.9 1068.4,1416.0 C1080.3,1423.1 1096.3,1429.8 1108.6,1436.1 C1120.9,1442.4 1130.8,1448.0 1142.0,1453.9 C1153.2,1459.9 1166.2,1467.3 1175.5,1471.8 C1184.8,1476.3 1190.5,1479.2 1197.9,1480.7 C1205.4,1482.2 1212.8,1483.7 1220.2,1480.7 C1227.6,1477.7 1233.2,1471.1 1242.5,1462.9 C1251.8,1454.7 1265.6,1439.8 1276.0,1431.6 C1286.4,1423.4 1297.9,1418.3 1305.0,1413.8 C1312.1,1409.3 1313.3,1407.3 1318.4,1404.8 C1323.5,1402.2 1330.6,1399.8 1335.7,1398.5 C1340.8,1397.2 1343.9,1396.8 1349.1,1396.9 C1354.3,1397.0 1358.5,1398.5 1367.0,1399.2 C1375.5,1400.0 1389.2,1398.6 1400.4,1401.4 C1411.6,1404.2 1420.9,1410.5 1433.9,1415.9 C1446.9,1421.3 1463.7,1428.2 1478.6,1433.8 C1493.5,1439.4 1508.3,1444.8 1523.2,1449.4 C1538.1,1454.1 1556.7,1460.4 1567.9,1461.7 C1579.1,1463.0 1579.1,1460.0 1590.2,1457.2 C1601.3,1454.4 1622.5,1449.0 1634.8,1444.9 C1647.1,1440.8 1656.3,1434.6 1663.8,1432.6 C1671.2,1430.5 1673.9,1432.0 1679.5,1432.6 C1685.1,1433.2 1691.6,1435.1 1697.6,1436.1 C1703.5,1437.1 1706.4,1437.0 1715.2,1438.4 C1724.0,1439.8 1738.6,1443.1 1750.3,1444.3 C1762.0,1445.5 1773.8,1445.7 1785.5,1445.5 C1797.2,1445.3 1808.9,1442.7 1820.6,1443.1 C1832.3,1443.5 1844.1,1446.2 1855.8,1447.8 C1867.5,1449.4 1879.2,1450.9 1890.9,1452.5 C1902.6,1454.1 1914.4,1456.8 1926.1,1457.2 C1937.8,1457.6 1949.5,1456.4 1961.2,1454.8 C1972.9,1453.2 1984.7,1450.1 1996.4,1447.8 C2008.1,1445.5 2021.0,1442.8 2031.5,1440.8 C2042.0,1438.8 2052.1,1436.9 2059.7,1436.1 C2067.3,1435.3 2074.3,1436.1 2077.2,1436.1" fill="none" stroke="rgba(0,0,0,0.09)" stroke-width="10" transform="translate(1,2)" stroke-linejoin="round"/><path d="M193.4,1590.8 C198.6,1591.0 211.9,1591.9 224.6,1591.9 C237.2,1591.9 256.3,1590.6 269.3,1590.8 C282.3,1591.0 291.6,1592.5 302.8,1593.0 C314.0,1593.5 327.0,1594.7 336.3,1594.1 C345.6,1593.5 351.2,1592.2 358.6,1589.6 C366.0,1587.0 373.5,1583.0 380.9,1578.5 C388.3,1574.0 396.5,1567.7 403.2,1562.9 C409.9,1558.1 414.8,1553.8 421.1,1549.5 C427.4,1545.2 433.4,1540.4 441.2,1537.2 C449.0,1534.0 459.3,1532.0 467.9,1530.5 C476.4,1529.0 484.7,1529.8 492.5,1528.3 C500.3,1526.8 507.4,1526.2 514.8,1521.6 C522.2,1516.9 530.4,1506.7 537.1,1500.4 C543.8,1494.1 550.5,1488.2 555.0,1483.6 C559.5,1478.9 560.8,1476.1 563.9,1472.5 C567.0,1468.9 568.5,1467.2 573.4,1461.9 C578.3,1456.6 586.4,1447.2 593.5,1440.7 C600.6,1434.2 608.4,1427.0 615.8,1422.9 C623.2,1418.8 630.7,1417.9 638.1,1416.2 C645.5,1414.5 652.6,1412.8 660.4,1412.8 C668.2,1412.8 677.2,1414.9 685.0,1416.2 C692.8,1417.5 697.6,1420.4 707.3,1420.6 C717.0,1420.8 730.4,1417.8 743.0,1417.3 C755.6,1416.8 772.8,1417.5 783.2,1417.3 C793.6,1417.1 797.7,1416.0 805.5,1416.2 C813.3,1416.4 823.8,1419.2 830.1,1418.4 C836.4,1417.7 839.0,1415.4 843.5,1411.7 C848.0,1408.0 852.1,1400.9 856.9,1396.1 C861.7,1391.3 866.2,1386.6 872.5,1382.7 C878.8,1378.8 885.9,1376.5 894.8,1372.6 C903.7,1368.7 918.3,1360.9 926.1,1359.2 C933.9,1357.5 936.6,1360.6 941.7,1362.6 C946.8,1364.6 952.8,1369.1 956.8,1371.3 C960.8,1373.5 962.0,1375.6 965.7,1375.8 C969.4,1376.0 973.2,1372.1 979.1,1372.5 C985.0,1372.9 991.7,1374.5 1001.4,1378.0 C1011.1,1381.5 1025.9,1387.4 1037.1,1393.7 C1048.3,1400.0 1056.5,1408.9 1068.4,1416.0 C1080.3,1423.1 1096.3,1429.8 1108.6,1436.1 C1120.9,1442.4 1130.8,1448.0 1142.0,1453.9 C1153.2,1459.9 1166.2,1467.3 1175.5,1471.8 C1184.8,1476.3 1190.5,1479.2 1197.9,1480.7 C1205.4,1482.2 1212.8,1483.7 1220.2,1480.7 C1227.6,1477.7 1233.2,1471.1 1242.5,1462.9 C1251.8,1454.7 1265.6,1439.8 1276.0,1431.6 C1286.4,1423.4 1297.9,1418.3 1305.0,1413.8 C1312.1,1409.3 1313.3,1407.3 1318.4,1404.8 C1323.5,1402.2 1330.6,1399.8 1335.7,1398.5 C1340.8,1397.2 1343.9,1396.8 1349.1,1396.9 C1354.3,1397.0 1358.5,1398.5 1367.0,1399.2 C1375.5,1400.0 1389.2,1398.6 1400.4,1401.4 C1411.6,1404.2 1420.9,1410.5 1433.9,1415.9 C1446.9,1421.3 1463.7,1428.2 1478.6,1433.8 C1493.5,1439.4 1508.3,1444.8 1523.2,1449.4 C1538.1,1454.1 1556.7,1460.4 1567.9,1461.7 C1579.1,1463.0 1579.1,1460.0 1590.2,1457.2 C1601.3,1454.4 1622.5,1449.0 1634.8,1444.9 C1647.1,1440.8 1656.3,1434.6 1663.8,1432.6 C1671.2,1430.5 1673.9,1432.0 1679.5,1432.6 C1685.1,1433.2 1691.6,1435.1 1697.6,1436.1 C1703.5,1437.1 1706.4,1437.0 1715.2,1438.4 C1724.0,1439.8 1738.6,1443.1 1750.3,1444.3 C1762.0,1445.5 1773.8,1445.7 1785.5,1445.5 C1797.2,1445.3 1808.9,1442.7 1820.6,1443.1 C1832.3,1443.5 1844.1,1446.2 1855.8,1447.8 C1867.5,1449.4 1879.2,1450.9 1890.9,1452.5 C1902.6,1454.1 1914.4,1456.8 1926.1,1457.2 C1937.8,1457.6 1949.5,1456.4 1961.2,1454.8 C1972.9,1453.2 1984.7,1450.1 1996.4,1447.8 C2008.1,1445.5 2021.0,1442.8 2031.5,1440.8 C2042.0,1438.8 2052.1,1436.9 2059.7,1436.1 C2067.3,1435.3 2074.3,1436.1 2077.2,1436.1" fill="none" stroke="#15202e" stroke-width="5" stroke-linejoin="round" stroke-linecap="round"/><circle cx="564.5" cy="1431.2" r="13" fill="#7a818b" stroke="#fff" stroke-width="2"/><circle cx="942.8" cy="1378.2" r="13" fill="#7a818b" stroke="#fff" stroke-width="2"/><circle cx="1320.1" cy="1391.3" r="13" fill="#7a818b" stroke="#fff" stroke-width="2"/><circle cx="1697.6" cy="1452.5" r="13" fill="#7a818b" stroke="#fff" stroke-width="2"/><circle cx="2077.2" cy="1424.4" r="13" fill="#7a818b" stroke="#fff" stroke-width="2"/><polygon points="563.9,1457.5 578.9,1472.5 563.9,1487.5 548.9,1472.5" fill="#15202e" stroke="#fff" stroke-width="3"/><polygon points="942.2,1347.6 957.2,1362.6 942.2,1377.6 927.2,1362.6" fill="#15202e" stroke="#fff" stroke-width="3"/><polygon points="1320.1,1388.6 1335.1,1403.6 1320.1,1418.6 1305.1,1403.6" fill="#15202e" stroke="#fff" stroke-width="3"/><polygon points="1697.6,1421.1 1712.6,1436.1 1697.6,1451.1 1682.6,1436.1" fill="#15202e" stroke="#fff" stroke-width="3"/><polygon points="2077.2,1421.1 2092.2,1436.1 2077.2,1451.1 2062.2,1436.1" fill="#15202e" stroke="#fff" stroke-width="3"/><rect x="731.4" y="1794.7" width="24.3" height="6" fill="#7a818b"/><rect x="1093.5" y="1794.7" width="37.6" height="6" fill="#15202e"/><text x="782" y="1808.1" font-size="38" font-weight="bold" fill="#333">7-Day Average</text><text x="1143" y="1808.1" font-size="38" font-weight="bold" fill="#333">90-Day Average</text></svg>
<div class="h" id="seg" style="left:21.5px;top:1886.1px;line-height:41.2px;transform:scaleX(1.3630)"><span style="font-size:41.2px">M</span><span style="font-size:34.5px">A</span><span style="font-size:34.5px">R</span><span style="font-size:34.5px">K</span><span style="font-size:34.5px">E</span><span style="font-size:34.5px">T</span><span style="font-size:34.5px"> </span><span style="font-size:41.2px">S</span><span style="font-size:34.5px">E</span><span style="font-size:34.5px">G</span><span style="font-size:34.5px">M</span><span style="font-size:34.5px">E</span><span style="font-size:34.5px">N</span><span style="font-size:34.5px">T</span><span style="font-size:34.5px">S</span></div>
<div class="t " style="left:22.0px;top:1960.3px;font-size:33.4px;line-height:33.4px;">Each segment below represents approximately 25% of the market ordered by price.</div>
<div style="position:absolute;left:21.8px;top:2022.4px;width:2156.2px;height:2px;background:#dddddd"></div>
<div style="position:absolute;left:21.8px;top:2106.3px;width:2156.2px;height:2px;background:#dddddd"></div>
<div style="position:absolute;left:21.8px;top:2190.2px;width:2156.2px;height:2px;background:#dddddd"></div>
<div style="position:absolute;left:21.8px;top:2273.5px;width:2156.2px;height:2px;background:#dddddd"></div>
<div style="position:absolute;left:21.8px;top:2356.7px;width:2156.2px;height:2px;background:#dddddd"></div>
<div class="t " style="left:39.9px;top:2051.0px;font-size:33.4px;line-height:33.4px;font-weight:bold">Median Price</div>
<div class="t " style="left:406.4px;top:2051.0px;font-size:33.4px;line-height:33.4px;font-weight:bold">Sq. Ft.</div>
<div class="t " style="left:613.2px;top:2051.0px;font-size:33.4px;line-height:33.4px;font-weight:bold">Lot Size</div>
<div class="t " style="left:1090.8px;top:2051.0px;font-size:33.4px;line-height:33.4px;font-weight:bold">Beds</div>
<div class="t " style="left:1266.3px;top:2051.0px;font-size:33.4px;line-height:33.4px;font-weight:bold">Bath</div>
<div class="t " style="left:1431.4px;top:2051.0px;font-size:33.4px;line-height:33.4px;font-weight:bold">Age</div>
<div class="t " style="left:1579.3px;top:2051.0px;font-size:33.4px;line-height:33.4px;font-weight:bold">New</div>
<div class="t " style="left:1734.8px;top:2051.0px;font-size:33.4px;line-height:33.4px;font-weight:bold">Absorbed</div>
<div class="t " style="left:2023.8px;top:2051.0px;font-size:33.4px;line-height:33.4px;font-weight:bold">DOM</div>
<div class="t " style="left:39.9px;top:2134.2px;font-size:33.4px;line-height:33.4px;">$899,900</div>
<div class="t " style="left:406.4px;top:2134.2px;font-size:33.4px;line-height:33.4px;">3,006</div>
<div class="t " style="left:613.2px;top:2134.2px;font-size:33.4px;line-height:33.4px;">8,000 - 10,000 sqft</div>
<div class="t " style="left:1090.8px;top:2134.2px;font-size:33.4px;line-height:33.4px;">4</div>
<div class="t " style="left:1266.3px;top:2134.2px;font-size:33.4px;line-height:33.4px;">3</div>
<div class="t " style="left:1431.4px;top:2134.2px;font-size:33.4px;line-height:33.4px;">3</div>
<div class="t " style="left:1579.3px;top:2134.2px;font-size:33.4px;line-height:33.4px;">20</div>
<div class="t " style="left:1734.8px;top:2134.2px;font-size:33.4px;line-height:33.4px;">14</div>
<div class="t " style="left:2023.8px;top:2134.2px;font-size:33.4px;line-height:33.4px;">35</div>
<div class="t " style="left:39.9px;top:2217.7px;font-size:33.4px;line-height:33.4px;">$649,900</div>
<div class="t " style="left:406.4px;top:2217.7px;font-size:33.4px;line-height:33.4px;">2,399</div>
<div class="t " style="left:613.2px;top:2217.7px;font-size:33.4px;line-height:33.4px;">6,500 - 8,000 sqft</div>
<div class="t " style="left:1090.8px;top:2217.7px;font-size:33.4px;line-height:33.4px;">4</div>
<div class="t " style="left:1266.3px;top:2217.7px;font-size:33.4px;line-height:33.4px;">3</div>
<div class="t " style="left:1431.4px;top:2217.7px;font-size:33.4px;line-height:33.4px;">2</div>
<div class="t " style="left:1579.3px;top:2217.7px;font-size:33.4px;line-height:33.4px;">35</div>
<div class="t " style="left:1734.8px;top:2217.7px;font-size:33.4px;line-height:33.4px;">17</div>
<div class="t " style="left:2023.8px;top:2217.7px;font-size:33.4px;line-height:33.4px;">28</div>
<div class="t " style="left:39.9px;top:2301.2px;font-size:33.4px;line-height:33.4px;">$544,900</div>
<div class="t " style="left:406.4px;top:2301.2px;font-size:33.4px;line-height:33.4px;">2,036</div>
<div class="t " style="left:613.2px;top:2301.2px;font-size:33.4px;line-height:33.4px;">4,500 - 6,500 sqft</div>
<div class="t " style="left:1090.8px;top:2301.2px;font-size:33.4px;line-height:33.4px;">3</div>
<div class="t " style="left:1266.3px;top:2301.2px;font-size:33.4px;line-height:33.4px;">3</div>
<div class="t " style="left:1431.4px;top:2301.2px;font-size:33.4px;line-height:33.4px;">1</div>
<div class="t " style="left:1579.3px;top:2301.2px;font-size:33.4px;line-height:33.4px;">17</div>
<div class="t " style="left:1734.8px;top:2301.2px;font-size:33.4px;line-height:33.4px;">13</div>
<div class="t " style="left:2023.8px;top:2301.2px;font-size:33.4px;line-height:33.4px;">35</div>
<div class="t " style="left:39.9px;top:2384.7px;font-size:33.4px;line-height:33.4px;">$459,990</div>
<div class="t " style="left:406.4px;top:2384.7px;font-size:33.4px;line-height:33.4px;">1,694</div>
<div class="t " style="left:613.2px;top:2384.7px;font-size:33.4px;line-height:33.4px;">4,500 - 6,500 sqft</div>
<div class="t " style="left:1090.8px;top:2384.7px;font-size:33.4px;line-height:33.4px;">3</div>
<div class="t " style="left:1266.3px;top:2384.7px;font-size:33.4px;line-height:33.4px;">2</div>
<div class="t " style="left:1431.4px;top:2384.7px;font-size:33.4px;line-height:33.4px;">1</div>
<div class="t " style="left:1579.3px;top:2384.7px;font-size:33.4px;line-height:33.4px;">11</div>
<div class="t " style="left:1734.8px;top:2384.7px;font-size:33.4px;line-height:33.4px;">22</div>
<div class="t " style="left:2023.8px;top:2384.7px;font-size:33.4px;line-height:33.4px;">42</div>
</body></html>
